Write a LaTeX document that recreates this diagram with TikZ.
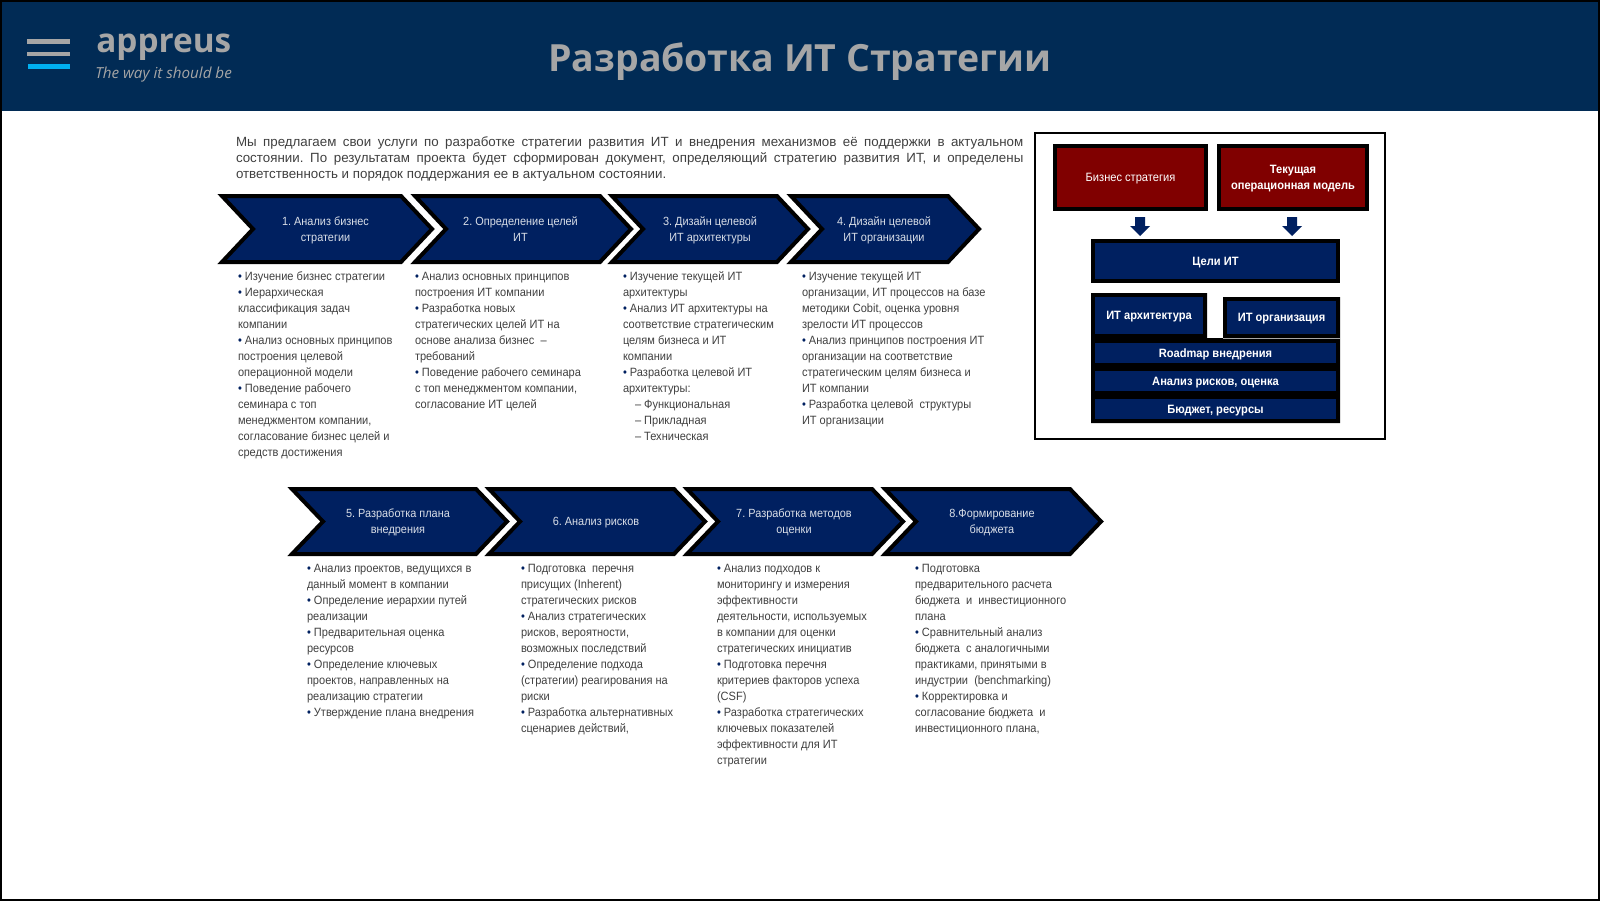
\documentclass[tikz,border=0pt]{standalone}
\usepackage{fontspec}
\setmainfont{Liberation Sans}
\newfontfamily\headfont{Open Sans}
\newfontfamily\narrowf[FakeStretch=0.92]{Liberation Sans}
\frenchspacing
\definecolor{hdr}{HTML}{012B55}
\definecolor{navy}{HTML}{002060}
\definecolor{dred}{HTML}{800000}
\definecolor{hgrey}{HTML}{A6A6A6}
\definecolor{cyanbar}{HTML}{00B0F0}
\definecolor{bodyc}{HTML}{404040}
\newcommand{\bu}{{\color{navy}\textbullet}~}
\newcommand{\firstl}{\rule{0pt}{9pt}}
\tikzset{
  x=0.75pt,y=-0.75pt,
  bodytext/.style={anchor=north west,inner sep=0pt,outer sep=0pt,align=left,text=bodyc,font=\narrowf\fontsize{9}{12}\selectfont},
  introtext/.style={anchor=north west,inner sep=0pt,outer sep=0pt,align=left,text=bodyc,font=\fontsize{10}{12}\selectfont},
  chevtext/.style={inner sep=0pt,align=center,text=white!85!navy,font=\narrowf\fontsize{8.9}{12}\selectfont},
  boxtext/.style={inner sep=0pt,outer sep=0pt,align=center,text=white,font=\narrowf\fontsize{9.05}{12}\selectfont\bfseries},
  chevshape/.style={fill=navy,draw=black,line width=3pt,miter limit=10,line join=miter},
  arrowshape/.style={fill=navy},
}
% name, outer left x, outer tip x, outer top y, outer bottom y, text, text centre x
\newcommand{\chev}[7]{%
  \pgfmathsetmacro{\midy}{(#4+#5)/2}
  \path[chevshape] (#2+5,#4+2)--(#3-34,#4+2)--(#3-3,\midy)--(#3-34,#5-2)--(#2+5,#5-2)--(#2+36,\midy)--cycle;
  \node[chevtext] (#1) at (#7,#5-34) {\rule{0pt}{7pt}#6\rule[-2pt]{0pt}{0pt}};
}
% name, x1,y1,x2,y2, fill, text
\newcommand{\blk}[7]{%
  \path[fill=#6] (#2,#3) rectangle (#4,#5);
  \node[boxtext] (#1) at ({(#2+#4)/2},{(#3+#5)/2+1.5}) {#7};
}
% block arrow: centre x
\newcommand{\barrow}[1]{%
  \fill[arrowshape] (#1-5,217)--(#1+5,217)--(#1+5,226)--(#1+10,226)--(#1,236)--(#1-10,226)--(#1-5,226)--cycle;
}
\begin{document}
\begin{tikzpicture}
\useasboundingbox (0,0) rectangle (1600,901);
\fill[white] (0,0) rectangle (1600,901);
\fill[hdr] (0,0) rectangle (1600,111);
\draw[black,line width=1.2pt] (1,1) rectangle (1599,900);
% logo
\fill[hgrey] (27,39) rectangle (70,44);
\fill[hgrey] (27,52) rectangle (70,56);
\fill[cyanbar] (28,64) rectangle (70,69);
\node[anchor=base west,inner sep=0pt,text=hgrey,font=\headfont\bfseries\fontsize{25}{30}\selectfont] (logo) at (96,52) {appreus};
\node[anchor=base west,inner sep=0pt,text=hgrey,font=\headfont\itshape\fontsize{11.4}{13}\selectfont] (tag) at (95,78) {The way it should be};
\node[inner sep=0pt,text=hgrey,font=\headfont\bfseries\fontsize{28.1}{34}\selectfont] (title) at (800,62) {Разработка ИТ Стратегии};
% intro
\node[introtext] (intro) at (236,136.5) {%
\makebox[590.5pt][s]{Мы предлагаем свои услуги по разработке стратегии развития ИТ и внедрения механизмов её поддержки в актуальном}\\
\makebox[590.5pt][s]{состоянии. По результатам проекта будет сформирован документ, определяющий стратегию развития ИТ, и определены}\\
ответственность и порядок поддержания ее в актуальном состоянии.};
% row 1
\chev{c1}{217}{435}{194}{264}{1. Анализ бизнес\\стратегии}{325.5}
\chev{c2}{410}{634}{194}{264}{2. Определение целей\\ИТ}{520.5}
\chev{c3}{607}{811}{194}{264}{3. Дизайн целевой\\ИТ архитектуры}{710}
\chev{c4}{786}{982}{194}{264}{4. Дизайн целевой\\ИТ организации}{884}
% row 2
\chev{c5}{287}{510}{487}{556}{5. Разработка плана\\внедрения}{398}
\chev{c6}{484}{708}{487}{556}{6. Анализ рисков}{596}
\chev{c7}{682}{906}{487}{556}{7. Разработка методов\\оценки}{794}
\chev{c8}{880}{1104}{487}{556}{8.Формирование\\бюджета}{992}
% lists row 1
\node[bodytext] (t1) at (238,268.1) {\firstl\bu Изучение бизнес стратегии\\
\bu Иерархическая\\классификация задач\\компании\\
\bu Анализ основных принципов\\построения целевой\\операционной модели\\
\bu Поведение рабочего\\семинара с топ\\менеджментом компании,\\согласование бизнес целей и\\средств достижения};
\node[bodytext] (t2) at (415,268.1) {\firstl\bu Анализ основных принципов\\построения ИТ компании\\
\bu Разработка новых\\стратегических целей ИТ на\\основе анализа бизнес~ –\\требований\\
\bu Поведение рабочего семинара\\с топ менеджментом компании,\\согласование ИТ целей};
\node[bodytext] (t3) at (623,268.1) {\firstl\bu Изучение текущей ИТ\\архитектуры\\
\bu Анализ ИТ архитектуры на\\соответствие стратегическим\\целям бизнеса и ИТ\\компании\\
\bu Разработка целевой ИТ\\архитектуры:\\
\hspace*{9pt}– Функциональная\\\hspace*{9pt}– Прикладная\\\hspace*{9pt}– Техническая};
\node[bodytext] (t4) at (802,268.1) {\firstl\bu Изучение текущей ИТ\\организации, ИТ процессов на базе\\методики Cobit, оценка уровня\\зрелости ИТ процессов\\
\bu Анализ принципов построения ИТ\\организации на соответствие\\стратегическим целям бизнеса и\\ИТ компании\\
\bu Разработка целевой~ структуры\\ИТ организации};
% lists row 2
\node[bodytext] (t5) at (307,560.1) {\firstl\bu Анализ проектов, ведущихся в\\данный момент в компании\\
\bu Определение иерархии путей\\реализации\\
\bu Предварительная оценка\\ресурсов\\
\bu Определение ключевых\\проектов, направленных на\\реализацию стратегии\\
\bu Утверждение плана внедрения};
\node[bodytext] (t6) at (521,560.1) {\firstl\bu Подготовка~ перечня\\присущих (Inherent)\\стратегических рисков\\
\bu Анализ стратегических\\рисков, вероятности,\\возможных последствий\\
\bu Определение подхода\\(стратегии) реагирования на\\риски\\
\bu Разработка альтернативных\\сценариев действий,};
\node[bodytext] (t7) at (717,560.1) {\firstl\bu Анализ подходов к\\мониторингу и измерения\\эффективности\\деятельности, используемых\\в компании для оценки\\стратегических инициатив\\
\bu Подготовка перечня\\критериев факторов успеха\\(CSF)\\
\bu Разработка стратегических\\ключевых показателей\\эффективности для ИТ\\стратегии};
\node[bodytext] (t8) at (915,560.1) {\firstl\bu Подготовка\\предварительного расчета\\бюджета~ и~ инвестиционного\\плана\\
\bu Сравнительный анализ\\бюджета~ с аналогичными\\практиками, принятыми в\\индустрии~ (benchmarking)\\
\bu Корректировка и\\согласование бюджета~ и\\инвестиционного плана,};
% right panel
\draw[black,line width=1.2pt] (1035,133) rectangle (1385,439);
\fill[black] (1053,144) rectangle (1208,211);
\fill[black] (1217,144) rectangle (1369,211);
\blk{bs}{1057}{148}{1204}{207}{dred}{\mdseries Бизнес стратегия}
\blk{om}{1221}{148}{1365}{207}{dred}{Текущая\\операционная модель}
\barrow{1140}
\barrow{1292}
\fill[black] (1091,239) rectangle (1340,283);
\blk{goals}{1095}{243}{1336}{279}{navy}{Цели ИТ}
\fill[black] (1091,293)--(1207,293)--(1207,338)--(1223,338)--(1223,297)--(1340,297)--(1340,423)--(1091,423)--cycle;
\blk{arch}{1095}{297}{1203}{334}{navy}{ИТ архитектура}
\blk{org}{1227}{301}{1336}{334}{navy}{ИТ организация}
\draw[hgrey,line width=0.5pt] (1223,338)--(1340,338);
\blk{road}{1095}{343}{1336}{363}{navy}{Roadmap внедрения}
\blk{risk}{1095}{371}{1336}{391}{navy}{Анализ рисков, оценка}
\blk{budget}{1095}{399}{1336}{419}{navy}{Бюджет, ресурсы}
\end{tikzpicture}
\end{document}
